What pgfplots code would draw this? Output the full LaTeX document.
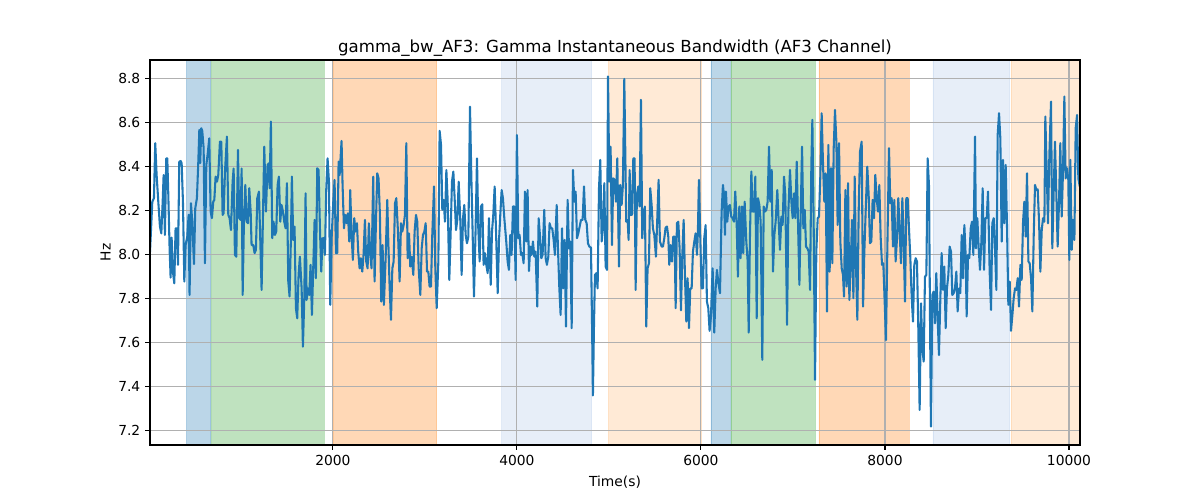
\documentclass[border=0pt]{standalone}
\usepackage{pgfplots}
\pgfplotsset{compat=1.18}
\usepackage{fontspec}
\setmainfont{DejaVu Sans}
\definecolor{tabblue}{HTML}{1F77B4}
\definecolor{tabgreen}{HTML}{2CA02C}
\definecolor{taborange}{HTML}{FF7F0E}
\definecolor{tabltblue}{HTML}{AEC7E8}
\definecolor{tabltorange}{HTML}{FFBB78}
\definecolor{gridgray}{HTML}{B0B0B0}
\pgfplotsset{
  vspan/.style={draw=#1, draw opacity=0.3, line width=0.6pt, fill=#1, fill opacity=0.3},
  gline/.style={gridgray, line width=0.8pt, mark=none, forget plot},
}
\begin{document}
\begin{tikzpicture}
\useasboundingbox (0,0) rectangle (12in,5in);
\begin{axis}[
  at={(1.5in,0.55in)}, anchor=south west,
  width=9.3in, height=3.85in, scale only axis,
  axis on top,
  xmin=12, xmax=10120, ymin=7.133, ymax=8.883,
  xtick={2000,4000,6000,8000,10000},
  ytick={7.2,7.4,7.6,7.8,8.0,8.2,8.4,8.6,8.8},
  scaled x ticks=false,
  /pgf/number format/assume math mode=true,
  xticklabel style={/pgf/number format/1000 sep={}},
  yticklabel style={/pgf/number format/.cd, fixed, fixed zerofill, precision=1},
  tick label style={font=\fontsize{10}{12}\selectfont},
  tick align=outside, major tick length=3.5pt,
  tick style={black, line width=0.8pt},
  xtick pos=bottom, ytick pos=left,
  axis line style={black, line width=0.8pt},
  title={gamma\_bw\_AF3: Gamma Instantaneous Bandwidth (AF3 Channel)},
  title style={font=\fontsize{12}{14}\selectfont, at={(axis description cs:0.5,0.997)}, anchor=base, yshift=0pt, inner sep=0pt},
  xlabel={Time(s)},
  xlabel style={font=\fontsize{10}{12}\selectfont, at={(axis description cs:0.5,-0.0803)}, anchor=north, inner sep=0pt},
  ylabel={Hz},
  ylabel style={font=\fontsize{10}{12}\selectfont, at={(axis description cs:-0.042,0.5)}, anchor=south, inner sep=0pt},
]
\addplot[vspan=tabblue] coordinates {(410,7.133) (410,8.883) (671,8.883) (671,7.133) (410,7.133)};
\addplot[vspan=tabgreen] coordinates {(682,7.133) (682,8.883) (1903,8.883) (1903,7.133) (682,7.133)};
\addplot[vspan=taborange] coordinates {(2004,7.133) (2004,8.883) (3127,8.883) (3127,7.133) (2004,7.133)};
\addplot[vspan=tabltblue] coordinates {(3834,7.133) (3834,8.883) (4812,8.883) (4812,7.133) (3834,7.133)};
\addplot[vspan=tabltorange] coordinates {(4993,7.133) (4993,8.883) (6008,8.883) (6008,7.133) (4993,7.133)};
\addplot[vspan=tabblue] coordinates {(6109,7.133) (6109,8.883) (6316,8.883) (6316,7.133) (6109,7.133)};
\addplot[vspan=tabgreen] coordinates {(6326,7.133) (6326,8.883) (7240,8.883) (7240,7.133) (6326,7.133)};
\addplot[vspan=taborange] coordinates {(7283,7.133) (7283,8.883) (8261,8.883) (8261,7.133) (7283,7.133)};
\addplot[vspan=tabltblue] coordinates {(8522,7.133) (8522,8.883) (9355,8.883) (9355,7.133) (8522,7.133)};
\addplot[vspan=tabltorange] coordinates {(9370,7.133) (9370,8.883) (10120,8.883) (10120,7.133) (9370,7.133)};
% grid lines (drawn above the spans, below the signal, as in the reference)
\addplot[gline] coordinates {(12,7.2) (10120,7.2)};
\addplot[gline] coordinates {(12,7.4) (10120,7.4)};
\addplot[gline] coordinates {(12,7.6) (10120,7.6)};
\addplot[gline] coordinates {(12,7.8) (10120,7.8)};
\addplot[gline] coordinates {(12,8.0) (10120,8.0)};
\addplot[gline] coordinates {(12,8.2) (10120,8.2)};
\addplot[gline] coordinates {(12,8.4) (10120,8.4)};
\addplot[gline] coordinates {(12,8.6) (10120,8.6)};
\addplot[gline] coordinates {(12,8.8) (10120,8.8)};
\addplot[gline] coordinates {(2000,7.133) (2000,8.883)};
\addplot[gline] coordinates {(4000,7.133) (4000,8.883)};
\addplot[gline] coordinates {(6000,7.133) (6000,8.883)};
\addplot[gline] coordinates {(8000,7.133) (8000,8.883)};
\addplot[gline] coordinates {(10000,7.133) (10000,8.883)};
\addplot[tabblue, line width=1.5pt, line join=round, mark=none] table {
t v
12 8.01
37 8.239
55 8.255
69 8.505
84 8.36
102 8.24
120 8.126
135 8.095
149 8.23
160 8.36
174 8.088
189 8.436
200 8.436
211 8.27
225 8.027
236 7.894
247 8.076
261 7.921
276 7.868
290 8.118
305 8.118
316 7.952
330 8.42
345 8.424
356 8.414
370 8.24
385 7.876
399 8.042
417 8.08
432 8.179
442 7.815
457 8.232
471 8.15
490 7.955
504 8.209
522 8.255
537 8.42
548 8.565
558 8.414
569 8.573
580 8.561
595 8.482
609 7.959
624 8.406
638 8.452
656 8.527
671 8.194
685 8.164
700 8.24
711 8.247
725 8.353
740 8.33
754 8.36
772 8.512
787 8.512
801 8.179
812 8.186
827 8.376
848 8.535
863 8.179
877 8.164
892 8.11
910 8.33
921 8.39
935 7.997
950 7.989
968 8.474
982 8.164
997 8.156
1008 8.39
1019 7.815
1033 8.148
1048 8.315
1062 8.148
1077 8.141
1091 8.3
1106 8.194
1116 8.042
1134 8.042
1149 8.005
1163 8.02
1178 8.255
1196 8.285
1211 8.058
1225 7.838
1240 8.179
1254 8.489
1272 8.194
1290 8.406
1305 8.414
1312 8.3
1326 8.603
1341 8.073
1355 8.148
1370 8.088
1384 8.103
1399 8.315
1413 8.353
1428 8.148
1442 8.224
1457 8.194
1471 8.148
1486 8.118
1500 8.323
1515 7.876
1529 7.808
1544 8.08
1554 8.353
1569 8.065
1583 8.126
1598 7.755
1612 7.709
1627 7.906
1641 7.989
1660 7.845
1674 7.58
1689 7.8
1703 8.277
1714 7.792
1728 7.845
1743 7.815
1757 7.952
1772 7.724
1786 7.936
1801 8.156
1815 7.891
1830 8.391
1844 8.383
1859 8.118
1873 7.921
1888 8.073
1902 8.073
1913 7.997
1928 8.3
1942 8.436
1957 8.33
1971 7.77
1986 8.073
2004 8.239
2018 8.338
2033 8.005
2047 8.005
2062 8.421
2073 8.36
2083 8.436
2094 8.515
2105 8.315
2120 8.118
2134 8.179
2149 8.141
2163 8.186
2178 8.058
2188 8.292
2203 8.088
2217 7.974
2232 8.164
2246 8.103
2261 8.141
2275 8.012
2290 7.936
2304 7.982
2319 7.921
2333 7.997
2348 8.156
2362 7.967
2377 7.936
2391 8.141
2406 7.997
2420 7.936
2438 8.353
2453 7.876
2467 8.133
2482 8.368
2496 8.345
2511 8.179
2525 7.785
2540 8.042
2554 7.77
2573 7.982
2591 8.247
2602 8.058
2617 7.845
2631 7.702
2646 7.936
2660 7.967
2675 8.232
2689 8.255
2707 8.103
2725 7.876
2740 8.141
2754 8.103
2769 8.133
2783 8.179
2798 8.505
2812 7.982
2827 8.095
2841 7.944
2856 7.989
2874 7.906
2888 8.103
2903 8.179
2917 8.148
2932 7.936
2950 7.815
2965 8.027
2979 8.088
2994 8.103
3008 8.141
3023 7.921
3037 7.921
3051 7.853
3066 7.853
3080 8.088
3099 8.308
3113 7.936
3128 7.755
3146 7.967
3160 8.561
3175 8.497
3189 8.202
3204 8.247
3218 8.148
3233 8.383
3247 8.247
3265 7.883
3280 8.103
3294 8.33
3309 8.376
3323 8.255
3338 8.11
3352 8.156
3367 8.33
3385 8.148
3399 7.906
3414 8.164
3428 8.224
3443 8.088
3457 8.05
3472 8.08
3490 8.671
3504 8.361
3519 8.088
3533 7.808
3548 8.058
3566 8.436
3580 8.118
3595 7.967
3609 8.217
3624 8.227
3638 7.952
3653 8.005
3667 7.952
3682 7.914
3696 8.164
3715 7.861
3729 8.103
3743 8.179
3758 8.308
3772 8.118
3791 7.823
3805 8.058
3819 8.179
3834 8.292
3848 8.255
3863 8.164
3884 8.058
3899 7.967
3913 7.929
3928 8.088
3942 7.997
3957 8.217
3971 8.217
3986 7.883
4000 8.542
4015 8.073
4029 8.088
4044 7.997
4058 8.005
4073 7.959
4087 8.285
4102 8.058
4116 8.292
4131 7.924
4145 8.035
4160 7.997
4174 8.058
4189 7.989
4203 8.012
4221 7.762
4236 8.164
4250 8.088
4265 7.982
4279 7.997
4297 8.202
4312 7.982
4326 7.952
4341 7.989
4355 8.141
4370 8.118
4384 8.118
4399 8.065
4413 7.997
4432 8.224
4446 8.027
4461 7.845
4475 7.724
4490 8.118
4504 7.845
4519 8.065
4533 7.671
4551 8.247
4566 8.027
4580 8.058
4595 7.664
4609 8.383
4624 8.239
4638 8.285
4653 8.073
4667 8.095
4682 8.126
4696 8.156
4714 8.156
4729 8.308
4743 8.156
4758 8.141
4772 8.05
4787 8.035
4805 8.03
4816 7.694
4826 7.358
4837 7.664
4848 7.906
4863 7.914
4877 7.845
4892 8.3
4906 8.429
4921 8.058
4935 8.118
4950 8.323
4964 7.944
4979 7.929
4990 8.808
5004 8.33
5018 8.489
5033 8.042
5047 8.345
5062 8.338
5076 8.239
5091 8.436
5109 7.944
5123 8.315
5138 8.224
5152 8.315
5167 8.797
5188 8.148
5203 8.156
5214 8.065
5225 8.383
5236 8.179
5250 8.179
5265 8.436
5279 8.436
5290 7.838
5304 8.27
5319 8.308
5333 8.217
5348 8.702
5362 8.073
5377 8.179
5391 8.217
5406 7.671
5420 7.936
5435 7.959
5449 8.3
5464 8.224
5478 8.118
5493 8.088
5511 7.989
5525 8.156
5540 8.338
5554 8.058
5573 8.035
5587 8.035
5602 8.073
5616 8.121
5631 8.126
5645 8.08
5656 7.952
5670 8.042
5685 7.967
5699 8.08
5714 8.08
5725 7.755
5739 8.141
5754 8.148
5768 8.027
5783 7.745
5797 7.989
5812 8.156
5826 7.906
5841 7.694
5855 7.891
5870 7.664
5884 7.845
5899 7.845
5913 8.012
5928 8.058
5942 8.095
5957 7.997
5967 8.103
5978 8.338
5993 8.073
6007 7.845
6022 7.845
6036 8.073
6051 8.133
6065 7.785
6080 7.755
6094 7.652
6109 7.717
6127 7.936
6145 7.644
6160 7.845
6174 7.929
6188 7.876
6207 7.823
6225 8.194
6239 8.315
6250 8.27
6261 8.088
6272 8.285
6286 8.148
6301 8.217
6315 8.224
6330 8.171
6344 8.164
6359 8.148
6373 8.285
6388 8.148
6402 7.898
6417 8.217
6431 7.982
6446 8.217
6460 8.005
6475 8.239
6493 8.058
6508 7.967
6519 7.644
6533 8.088
6548 8.376
6562 8.194
6577 8.194
6591 8.353
6606 7.709
6620 8.255
6635 8.224
6649 8.148
6667 7.52
6682 8.217
6696 8.194
6711 8.202
6725 8.239
6740 8.489
6754 8.239
6769 8.383
6783 7.921
6798 8.088
6812 8.148
6830 8.292
6845 8.148
6859 8.02
6874 8.171
6888 8.133
6903 8.353
6917 8.27
6936 7.679
6950 8.194
6968 8.383
6983 8.239
6997 8.164
7012 8.277
7026 8.164
7041 8.421
7055 8.148
7070 7.861
7084 8.179
7099 8.489
7113 8.118
7128 8.202
7142 8.035
7157 8.027
7171 8.012
7186 7.838
7200 8.406
7211 8.611
7225 8.148
7240 7.429
7254 8.012
7269 8.164
7283 8.171
7298 8.361
7312 8.641
7327 8.406
7341 8.239
7356 8.368
7370 7.739
7385 8.497
7399 7.921
7414 8.391
7428 7.959
7443 8.482
7457 8.656
7472 8.512
7486 8.133
7501 8.505
7515 8.058
7530 7.936
7544 7.906
7555 7.808
7570 8.292
7584 7.853
7599 8.323
7613 7.792
7628 7.952
7642 8.156
7657 7.8
7671 8.353
7685 7.952
7700 7.702
7714 8.186
7729 8.467
7747 8.512
7762 7.762
7776 8.012
7794 8.239
7808 8.398
7823 8.27
7837 8.05
7852 8.058
7866 8.247
7881 8.164
7895 8.361
7910 8.255
7924 8.194
7939 8.315
7953 8.08
7968 7.952
7982 7.959
7997 7.785
8011 7.61
8026 8.027
8044 8.482
8058 8.232
8073 8.255
8087 8.035
8102 8.247
8116 7.967
8131 8.073
8145 8.255
8160 8.103
8174 7.959
8189 8.255
8203 8.065
8218 7.785
8232 8.255
8247 8.255
8261 8.118
8276 7.982
8290 7.808
8305 7.694
8319 7.952
8334 7.982
8348 7.967
8363 7.652
8377 7.292
8392 7.777
8406 7.573
8421 7.512
8435 7.898
8450 7.906
8464 8.436
8479 8.308
8490 7.694
8500 7.217
8515 7.815
8529 7.83
8544 7.686
8558 7.914
8573 7.709
8587 7.542
8602 7.8
8616 8.005
8631 7.838
8645 7.944
8660 7.664
8674 7.845
8689 7.906
8703 8.035
8718 8.012
8732 7.815
8747 7.823
8761 7.845
8776 7.921
8790 7.74
8805 7.845
8819 7.823
8834 8.088
8848 7.891
8863 8.133
8877 7.997
8888 7.717
8903 7.997
8917 7.982
8932 8.118
8946 8.148
8961 7.997
8979 8.535
8990 8.027
9004 8.164
9019 8.027
9033 7.929
9048 8.058
9062 8.3
9077 7.929
9091 8.164
9106 8.164
9120 8.285
9138 7.921
9153 7.747
9167 8.141
9182 8.164
9196 8.027
9211 7.838
9225 8.542
9240 8.641
9254 8.527
9269 8.058
9283 8.429
9298 8.141
9312 8.406
9327 8.118
9341 7.77
9356 7.876
9370 7.652
9385 7.724
9399 7.8
9414 7.845
9428 7.838
9443 7.891
9457 7.762
9472 7.952
9486 7.883
9501 8.148
9515 8.239
9530 8.08
9544 8.368
9559 7.967
9573 7.959
9588 7.891
9602 7.74
9617 8.088
9631 8.315
9646 8.292
9660 8.295
9675 8.148
9689 7.921
9704 8.11
9718 8.164
9733 8.148
9743 8.626
9758 8.383
9772 8.141
9787 8.452
9805 8.694
9819 8.027
9834 8.285
9848 8.512
9863 8.27
9877 8.035
9892 8.239
9906 8.505
9921 8.171
9935 8.376
9950 8.717
9964 8.345
9979 8.391
9993 8.338
10004 7.974
10015 8.429
10030 8.02
10044 8.156
10059 8.065
10073 8.573
10088 8.633
10102 8.345
10117 8.308
};
\end{axis}
\end{tikzpicture}
\end{document}
